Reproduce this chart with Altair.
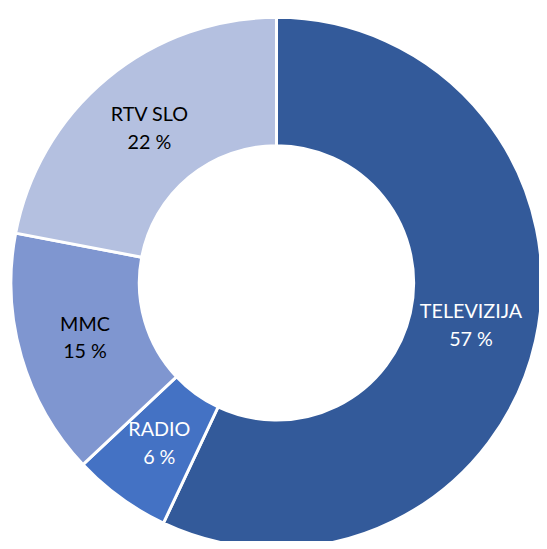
import altair as alt
import pandas as pd

categories = ["TELEVIZIJA", "RADIO", "MMC", "RTV SLO"]
shares = [57, 6, 15, 22]
colors = ["#335A9A", "#4472C4", "#7F96D0", "#B4C0E0"]
label_colors = ["white", "white", "black", "black"]

df = pd.DataFrame({
    "cat": categories,
    "share": shares,
    "order": list(range(len(categories))),
    "lc": label_colors,
})
df["label"] = df["cat"] + "\n" + df["share"].astype(str) + " %"

CX, CY = 272, 275
LH = 28

base = alt.Chart(df).encode(
    theta=alt.Theta("share:Q", stack=True),
    order=alt.Order("order:Q"),
)

arc = base.mark_arc(outerRadius=269, innerRadius=139, stroke="white", strokeWidth=3).encode(
    color=alt.Color("cat:N", scale=alt.Scale(domain=categories, range=colors), legend=None),
    x=alt.value(CX),
    y=alt.value(CY),
)

text = base.mark_text(radius=202, font="Lato", fontSize=20, lineBreak="\n",
                      lineHeight=LH, baseline="middle", align="center",
                      dy=-LH / 2).encode(
    text="label:N",
    color=alt.Color("lc:N", scale=None),
    x=alt.value(CX),
    y=alt.value(CY),
)

chart = (arc + text).properties(
    width=538, height=533, autosize="none", padding=0, background="white"
).configure_view(stroke=None)

chart.save("out.html", embed_options={"renderer": "svg", "actions": False})
